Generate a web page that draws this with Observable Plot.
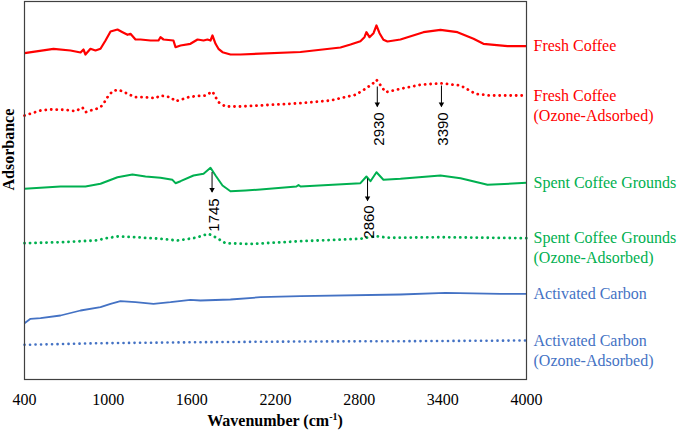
<!DOCTYPE html>
<html><head><meta charset="utf-8">
<script src="https://cdn.jsdelivr.net/npm/d3@7"></script>
<script src="https://cdn.jsdelivr.net/npm/@observablehq/plot@0.6"></script>
<style>body{margin:0;background:#fff} #chart{width:685px;height:431px}</style>
</head><body><div id="chart"></div>
<script>
// ---- data (wavenumber in cm-1, absorbance in arbitrary offset units) ----
const freshWn  = [400,608,730,802,823,837,873,909,945,981,1017,1067,1103,1139,1160,1196,1232,1304,1361,1375,1397,1468,1483,1519,1590,1641,1684,1712,1734,1748,1770,1791,1820,1877,1949,2379,2666,2738,2809,2838,2852,2874,2903,2924,2946,2974,3003,3096,3147,3261,3383,3505,3620,3691,3864,4000];
const freshAbs = [3.263,3.307,3.29,3.27,3.30,3.25,3.307,3.29,3.307,3.39,3.48,3.50,3.473,3.447,3.457,3.40,3.40,3.39,3.39,3.423,3.40,3.39,3.323,3.34,3.357,3.40,3.39,3.40,3.39,3.44,3.357,3.307,3.273,3.25,3.25,3.275,3.32,3.35,3.383,3.423,3.473,3.423,3.463,3.54,3.463,3.397,3.38,3.40,3.423,3.473,3.497,3.473,3.407,3.357,3.333,3.333];

const freshOzWn  = [400,515,586,694,766,816,837,873,923,959,995,1031,1067,1103,1139,1196,1268,1339,1375,1447,1483,1519,1576,1626,1698,1748,1791,1841,1949,2379,2594,2774,2845,2896,2924,2960,2989,3096,3240,3383,3527,3634,3742,4000];
const freshOzAbs = [2.64,2.69,2.70,2.697,2.683,2.72,2.673,2.69,2.71,2.74,2.823,2.883,2.897,2.883,2.857,2.823,2.823,2.813,2.84,2.823,2.783,2.797,2.823,2.833,2.84,2.88,2.773,2.73,2.73,2.763,2.79,2.847,2.907,2.957,2.997,2.93,2.873,2.907,2.947,2.963,2.94,2.857,2.84,2.84];

const spentWn  = [400,658,837,945,1067,1174,1268,1375,1461,1483,1519,1612,1684,1734,1770,1820,1877,1985,2092,2350,2365,2380,2809,2852,2881,2924,2974,3096,3383,3527,3691,3720,4000];
const spentAbs = [1.907,1.93,1.93,1.957,2.023,2.05,2.03,2.017,1.997,1.963,1.983,2.04,2.057,2.117,2.04,1.94,1.883,1.89,1.90,1.93,1.945,1.93,1.963,2.03,1.983,2.073,1.997,2.007,2.04,2.013,1.957,1.947,1.967];

const spentOzWn  = [400,658,909,1002,1067,1196,1375,1497,1626,1719,1770,1841,2021,2379,2809,2917,3025,3383,4000];
const spentOzAbs = [1.363,1.373,1.39,1.417,1.43,1.423,1.407,1.39,1.417,1.457,1.423,1.363,1.355,1.383,1.407,1.433,1.417,1.423,1.413];

const carbonWn  = [400,443,515,658,802,945,1017,1088,1196,1325,1447,1590,1662,1877,2092,2379,3096,3419,3813,4000];
const carbonAbs = [0.563,0.607,0.613,0.64,0.69,0.723,0.757,0.783,0.773,0.757,0.773,0.797,0.79,0.80,0.823,0.833,0.85,0.867,0.857,0.857];

const carbonOzWn  = [400,945,1662,2379,3096,4000];
const carbonOzAbs = [0.347,0.363,0.373,0.38,0.383,0.39];

const seriesNames = ["Fresh Coffee","Fresh Coffee\n(Ozone-Adsorbed)","Spent Coffee Grounds","Spent Coffee Grounds\n(Ozone-Adsorbed)","Activated Carbon","Activated Carbon\n(Ozone-Adsorbed)"];

const peakWn     = [2930, 3390, 1745, 2860];
const peakLabels = ["2930", "3390", "1745", "2860"];
const arrowTop   = [2.93, 2.94, 2.075, 2.01];
const arrowTip   = [2.73, 2.73, 1.875, 1.79];
const peakLabelY = [2.505, 2.505, 1.645, 1.575];

const xTicks = [400, 1000, 1600, 2200, 2800, 3400, 4000];

// ---- build ----
const seriesData = [
  [freshWn, freshAbs], [freshOzWn, freshOzAbs],
  [spentWn, spentAbs], [spentOzWn, spentOzAbs],
  [carbonWn, carbonAbs], [carbonOzWn, carbonOzAbs]
].map(([w, a], i) => w.map((wn, j) => ({series: seriesNames[i], wn, abs: a[j]})));

const colors = ["#ff0000","#ff0000","#00b050","#00b050","#4472c4","#4472c4"];
const dotted = [false, true, false, true, false, true];
const widths = [2.2, 2.8, 2, 2.8, 1.8, 2.6];

const lineMarks = seriesData.map((d, i) => Plot.line(d, {
  x: "wn", y: "abs", stroke: colors[i], strokeWidth: widths[i],
  strokeDasharray: dotted[i] ? "0.1 5.4" : null,
  strokeLinecap: dotted[i] ? "round" : "butt",
  strokeLinejoin: "round"
}));

const endLabels = seriesData.map((d, i) => ({...d[d.length - 1], name: seriesNames[i], color: colors[i]}));

const peaks = peakWn.map((wn, i) => ({wn, top: arrowTop[i], tip: arrowTip[i], ly: peakLabelY[i], label: peakLabels[i]}));

const plot = Plot.plot({
  width: 685, height: 431,
  marginLeft: 24, marginRight: 159, marginTop: 1, marginBottom: 52,
  style: {fontFamily: "'Liberation Serif','Times New Roman',serif", fontSize: "16px", background: "#fff", color: "#000"},
  x: {domain: [400, 4000]},
  y: {domain: [0, 3.78], axis: null},
  marks: [
    ...lineMarks,
    Plot.frame({stroke: "#404040", strokeWidth: 1.2}),
    Plot.axisX({ticks: xTicks, tickSize: 0, tickPadding: 14, tickFormat: d => String(d), label: null, fontSize: 16}),
    Plot.text(endLabels, {x: "wn", y: "abs", text: "name", fill: "color", textAnchor: "start", dx: 7, dy: -9, lineAnchor: "top", lineHeight: 1.25, fontSize: 16}),
    Plot.link(peaks, {x1: "wn", x2: "wn", y1: "top", y2: "tip", stroke: "#000", strokeWidth: 1}),
    Plot.dot(peaks, {x: "wn", y: "tip", symbol: "triangle2", r: 2.6, fill: "#000", rotate: 180, dy: -2.5}),
    Plot.text(peaks, {x: "wn", y: "ly", text: "label", rotate: -90, dx: 2, fontSize: 15, fontFamily: "'Liberation Sans', Arial, sans-serif", fill: "#000"}),
    Plot.text(["Adsorbance"], {frameAnchor: "left", text: d => d, rotate: -90, dx: -16, fontWeight: "bold", fontSize: 16, fill: "#000"})
  ]
});

document.getElementById("chart").append(plot);

// x-axis title with superscript
const sx = plot.scale("x");
const cx = (sx.apply(400) + sx.apply(4000)) / 2;
const t = d3.select(plot).append("text")
  .attr("x", cx).attr("y", 426)
  .attr("text-anchor", "middle")
  .attr("font-weight", "bold")
  .attr("font-size", 16)
  .attr("fill", "#000");
t.append("tspan").text("Wavenumber (cm");
t.append("tspan").attr("dy", -6).attr("font-size", 10).text("-1");
t.append("tspan").attr("dy", 6).text(")");
</script>
</body></html>
